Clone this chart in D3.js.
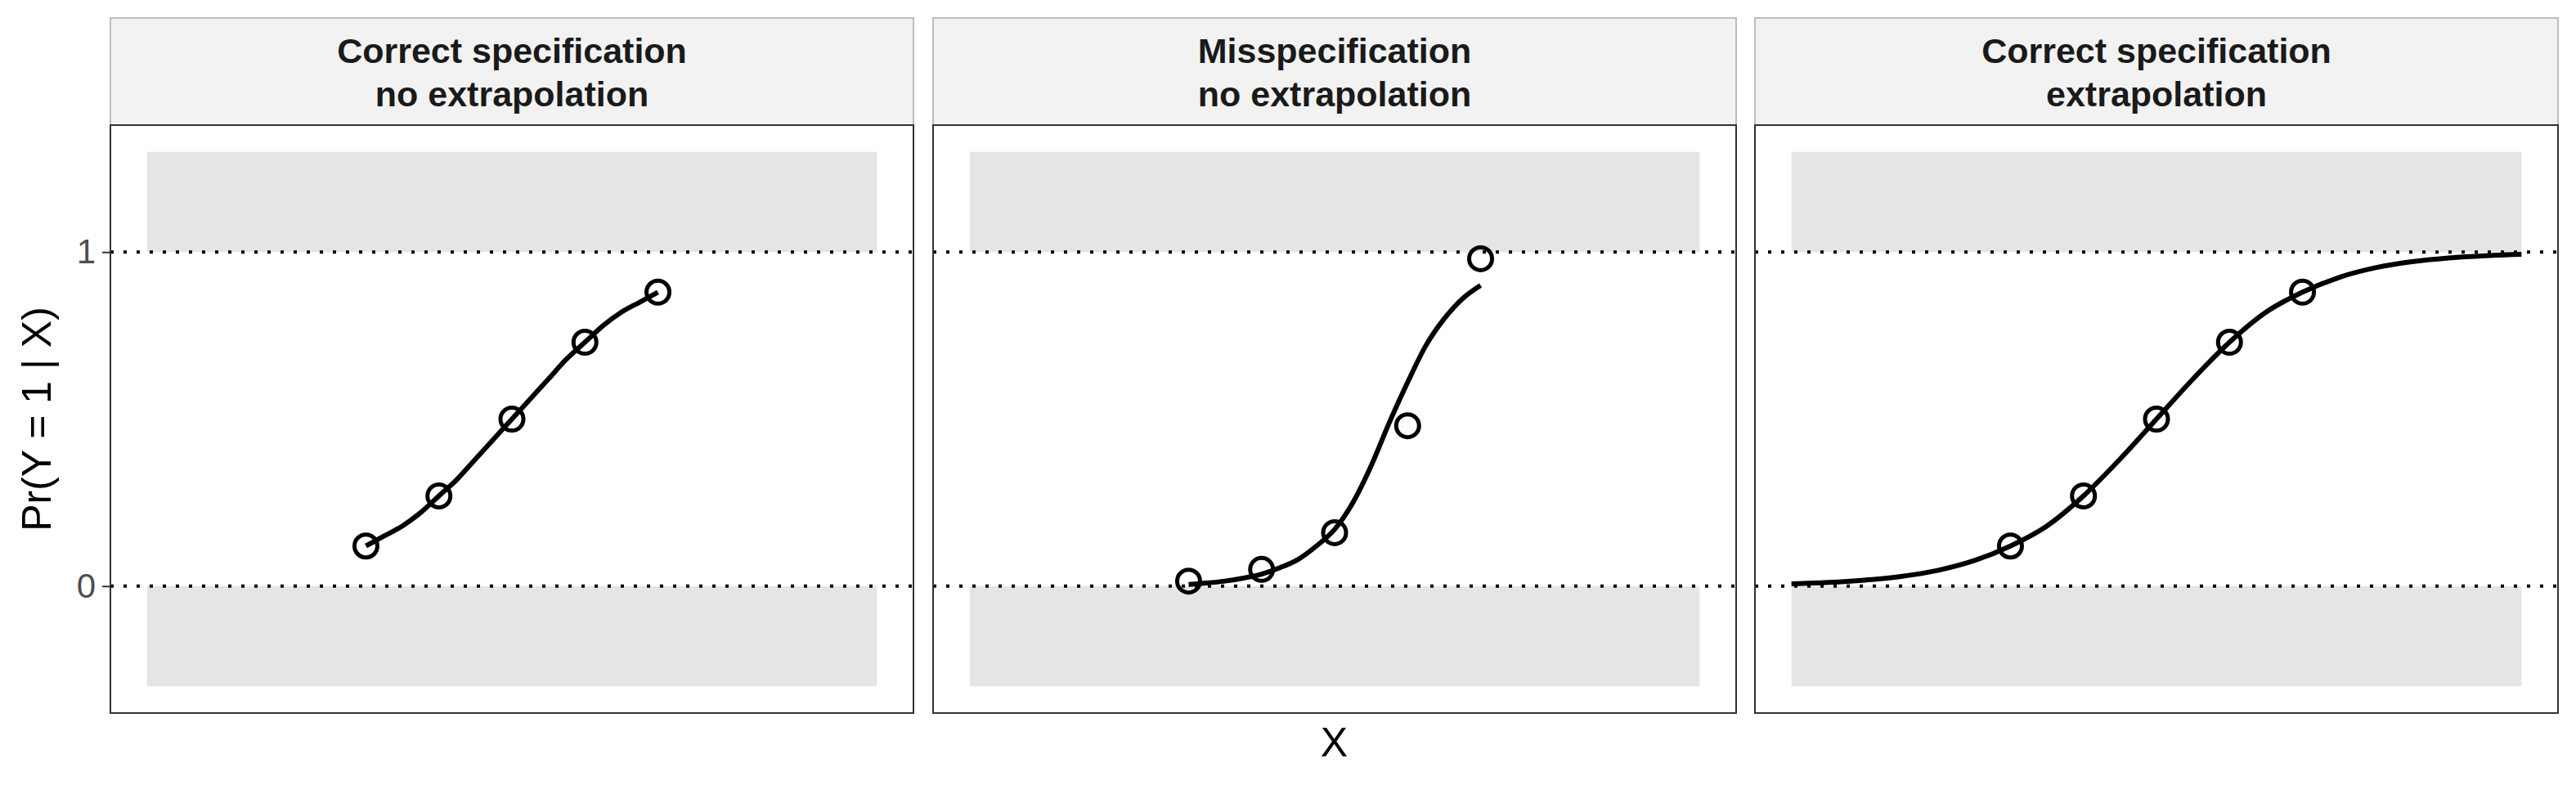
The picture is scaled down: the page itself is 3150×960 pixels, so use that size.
<!DOCTYPE html>
<html>
<head>
<meta charset="utf-8">
<script src="https://cdn.jsdelivr.net/npm/d3@7"></script>
<style>
  body { margin: 0; background: #fff; }
  text { font-family: "Liberation Sans", Arial, sans-serif; }
</style>
</head>
<body>
<svg id="chart" width="3150" height="960"></svg>
<script>
// Panel titles
const panelTitles = [
  ["Correct specification", "no extrapolation"],
  ["Misspecification", "no extrapolation"],
  ["Correct specification", "extrapolation"]
];

// Observed points (same x in all panels)
const pointX = [-2.4, -1.2, 0, 1.2, 2.4];
const pointYCorrect = [0.12, 0.27, 0.50, 0.73, 0.88];
const pointYMisspec = [0.015, 0.05, 0.16, 0.48, 0.98];

// Fitted curves, values
const curveXShort = [-2.4, -2.1, -1.8, -1.5, -1.2, -0.9, -0.6, -0.3, 0, 0.3, 0.6, 0.9, 1.2, 1.5, 1.8, 2.1, 2.4];
const curveYCorrectShort = [0.12, 0.15, 0.18, 0.22, 0.27, 0.32, 0.38, 0.44, 0.50, 0.56, 0.62, 0.68, 0.73, 0.78, 0.82, 0.85, 0.88];
const curveYMisspec = [0.005, 0.009, 0.015, 0.024, 0.036, 0.055, 0.08, 0.12, 0.17, 0.25, 0.36, 0.49, 0.61, 0.72, 0.80, 0.86, 0.90];
const curveXLong = [-6, -5.4, -4.8, -4.2, -3.6, -3, -2.4, -1.8, -1.2, -0.6, 0, 0.6, 1.2, 1.8, 2.4, 3, 3.6, 4.2, 4.8, 5.4, 6];
const curveYLong = [0.007, 0.011, 0.018, 0.029, 0.047, 0.076, 0.12, 0.18, 0.27, 0.38, 0.50, 0.62, 0.73, 0.82, 0.88, 0.924, 0.953, 0.971, 0.982, 0.989, 0.993];

// Gray bands outside [0, 1]
const bands = [[1, 1.3], [-0.3, 0]];
const yTicks = [0, 1];

const panels = [
  {pts: pointYCorrect, cx: curveXShort, cy: curveYCorrectShort},
  {pts: pointYMisspec, cx: curveXShort, cy: curveYMisspec},
  {pts: pointYCorrect, cx: curveXLong, cy: curveYLong}
];

const svg = d3.select("#chart");
const panelLefts = [135, 1141, 2146];
const panelW = 982;
const stripTop = 22, stripH = 131;
const plotTop = stripTop + stripH, plotBottom = 872;

const y = d3.scaleLinear().domain([-0.38, 1.38]).range([plotBottom, plotTop]);

panels.forEach((p, i) => {
  const left = panelLefts[i];
  const x = d3.scaleLinear().domain([-6.6, 6.6]).range([left, left + panelW]);
  const g = svg.append("g");

  // strip
  g.append("rect").attr("x", left).attr("y", stripTop).attr("width", panelW).attr("height", stripH)
    .attr("fill", "#f2f2f2").attr("stroke", "#bdbdbd").attr("stroke-width", 2);
  g.append("text").attr("x", left + panelW / 2).attr("y", stripTop + 55)
    .attr("text-anchor", "middle").attr("font-weight", "bold").attr("font-size", 43)
    .attr("fill", "#1a1a1a").text(panelTitles[i][0]);
  g.append("text").attr("x", left + panelW / 2).attr("y", stripTop + 108)
    .attr("text-anchor", "middle").attr("font-weight", "bold").attr("font-size", 43)
    .attr("fill", "#1a1a1a").text(panelTitles[i][1]);

  // gray bands
  g.selectAll(".band").data(bands).join("rect")
    .attr("x", x(-6)).attr("width", x(6) - x(-6))
    .attr("y", d => y(d[1])).attr("height", d => y(d[0]) - y(d[1]))
    .attr("fill", "#e5e5e5");

  // dotted reference lines
  g.selectAll(".ref").data(yTicks).join("line")
    .attr("x1", left).attr("x2", left + panelW)
    .attr("y1", d => y(d)).attr("y2", d => y(d))
    .attr("stroke", "#000").attr("stroke-width", 4).attr("stroke-dasharray", "4,12");

  // curve
  const line = d3.line().curve(d3.curveMonotoneX).x(d => x(d[0])).y(d => y(d[1]));
  g.append("path").datum(d3.zip(p.cx, p.cy)).attr("d", line)
    .attr("fill", "none").attr("stroke", "#000").attr("stroke-width", 6);

  // points
  g.selectAll(".pt").data(d3.zip(pointX, p.pts)).join("circle")
    .attr("cx", d => x(d[0])).attr("cy", d => y(d[1])).attr("r", 14)
    .attr("fill", "none").attr("stroke", "#000").attr("stroke-width", 5);

  // panel border
  g.append("rect").attr("x", left).attr("y", plotTop).attr("width", panelW).attr("height", plotBottom - plotTop)
    .attr("fill", "none").attr("stroke", "#333").attr("stroke-width", 2);

  if (i === 0) {
    const ax = svg.append("g").attr("transform", `translate(${left},0)`)
      .call(d3.axisLeft(y).tickValues(yTicks).tickSize(10).tickPadding(8).tickFormat(d3.format("d")));
    ax.select(".domain").remove();
    ax.selectAll("line").attr("stroke", "#333").attr("stroke-width", 2);
    ax.selectAll("text").attr("font-size", 42).attr("fill", "#4d4d4d")
      .style("font-family", "Liberation Sans, Arial, sans-serif");
  }
});

svg.append("text").attr("transform", `translate(62,${(plotTop + plotBottom) / 2}) rotate(-90)`)
  .attr("text-anchor", "middle").attr("font-size", 50).attr("fill", "#000").text("Pr(Y = 1 | X)");
svg.append("text").attr("x", (panelLefts[0] + panelLefts[2] + panelW) / 2).attr("y", 925)
  .attr("text-anchor", "middle").attr("font-size", 50).attr("fill", "#000").text("X");
</script>
</body>
</html>
